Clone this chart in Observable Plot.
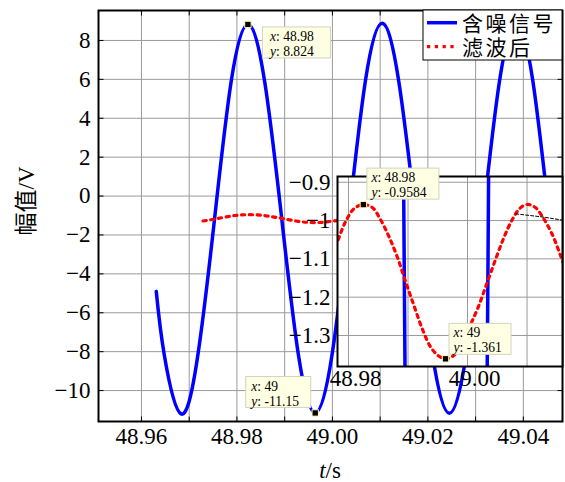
<!DOCTYPE html>
<html><head><meta charset="utf-8">
<script src="https://cdn.jsdelivr.net/npm/d3@7"></script>
<script src="https://cdn.jsdelivr.net/npm/@observablehq/plot@0.6"></script>
<style>
body{margin:0;background:#fff}
#wrap{position:relative;width:565px;height:482px;overflow:hidden}
#wrap > svg{position:absolute;font-family:"Liberation Serif","Noto Sans CJK SC",serif !important;font-size:23px !important}
</style>
</head><body><div id="wrap"></div><script>
// ---------- data ----------
const blueT = [48.9631, 48.9648, 48.9683, 48.9718, 48.9753, 48.9788, 48.9823, 48.9858, 48.9894, 48.9929,
               48.9964, 48.9999, 49.0034, 49.0069, 49.0104, 49.0139, 49.0175, 49.0210, 49.0245, 49.0280,
               49.0315, 49.0350, 49.0385, 49.0420, 49.0455, 49.0490];
const blueV = [-4.9, -8.2, -11.2, -8.2, -1.2, 5.9, 8.82, 5.9, -1.2, -8.2,
               -11.15, -8.2, -1.2, 5.9, 8.88, 5.9, -1.2, -8.2, -11.17, -8.2,
               -1.2, 5.9, 8.9, 5.9, -1.2, -8.2];
const redT = [48.9729, 48.9745, 48.9760, 48.97815, 48.9796, 48.9810, 48.9825, 48.9840, 48.9854, 48.9868,
              48.9882, 48.9896, 48.9910, 48.9924, 48.9938, 48.9951, 48.9963, 48.9977, 48.9991, 49.0005,
              49.0019, 49.0033, 49.0047, 49.0061, 49.0075, 49.0088, 49.0100, 49.0114, 49.0128, 49.0142,
              49.0156, 49.0170];
const redV = [-1.28, -1.22, -1.15, -1.055, -1.0, -0.968, -0.9584, -0.966, -0.998, -1.042,
              -1.095, -1.16, -1.222, -1.283, -1.33, -1.353, -1.361, -1.352, -1.318, -1.272,
              -1.222, -1.162, -1.102, -1.045, -0.998, -0.968, -0.958, -0.966, -0.995, -1.035,
              -1.09, -1.15];
const dashT = [49.0081, 49.0128, 49.0160];
const dashV = [-0.9825, -0.991, -0.999];

const mainTipX = [48.9823, 48.9964];
const mainTipY = [8.824, -11.15];
const insetTipX = [48.9825, 48.9963];
const insetTipY = [-0.9584, -1.361];

const xTickLabels = [48.96, 48.98, 49.00, 49.02, 49.04];
const xGridTicks = [48.96, 48.97, 48.98, 48.99, 49.00, 49.01, 49.02, 49.03, 49.04];
const yTickLabels = [-10, -8, -6, -4, -2, 0, 2, 4, 6, 8];
const insetXTickLabels = [48.98, 49.00];
const insetXGrid = [48.98, 48.99, 49.00, 49.01];
const insetYTickLabels = [-1.3, -1.2, -1.1, -1.0, -0.9];

const seriesNames = ["含噪信号", "滤波后"];
const xLabelVar = "t", xLabelUnit = "/s";
const yLabel = "幅值/V";

// ---------- tables ----------
const blue = blueT.map((t, i) => ({t, v: blueV[i]}));
const red = redT.map((t, i) => ({t, v: redV[i]}));
const dash = dashT.map((t, i) => ({t, v: dashV[i]}));
const mainTips = mainTipX.map((x, i) => ({x, y: mainTipY[i]}));
const insetTips = insetTipX.map((x, i) => ({x, y: insetTipY[i]}));

// ---------- styles ----------
const BLUE = "#0000ff", RED = "#ff0000", GRID = "#9a9a9a";
const SERIF = '"Liberation Serif","Times New Roman",serif';
const fmtTip = d3.formatLocale({decimal: ".", thousands: ",", grouping: [3], currency: ["", ""], minus: "-"}).format(".4~g");
const fmt2 = d3.format(".2f");
const fmtG = d3.format("~g");

function tickSym(dx, dy) {
  return {draw(ctx) { ctx.moveTo(0, 0); ctx.lineTo(dx, dy); }};
}
function datatip(d, {dx, dy, w, h = 31, pad = 5}) {
  const data = [d];
  const base = {x: "x", y: "y", textAnchor: "start", lineAnchor: "bottom", fontSize: 13.6, fontFamily: SERIF, fill: "black"};
  return [
    Plot.rect(data, {x1: "x", x2: "x", y1: "y", y2: "y",
      insetLeft: dx, insetRight: -(dx + w), insetTop: dy, insetBottom: -(dy + h),
      fill: "#ffffe4", stroke: "#d2d2c0", strokeWidth: 1}),
    Plot.dot(data, {x: "x", y: "y", symbol: "square", r: 3.6, fill: "black", stroke: "#ffffb0", strokeWidth: 1}),
    Plot.text(data, {...base, text: (p) => "x: " + fmtTip(p.x), dx: dx + pad, dy: dy + 13.6}),
    Plot.text(data, {...base, text: (p) => "y: " + fmtTip(p.y), dx: dx + pad, dy: dy + 28.6})
  ];
}
// italicise the variable letter of the datatip rows
function italicTipLetters(svg) {
  d3.select(svg).selectAll("text").each(function () {
    const s = this.textContent;
    if (this.childElementCount === 0 && /^[xy]: /.test(s)) {
      this.textContent = "";
      d3.select(this).append("tspan").attr("font-style", "italic").text(s[0]);
      d3.select(this).append("tspan").text(s.slice(1));
    }
  });
}

const wrap = document.getElementById("wrap");

// ---------- main chart ----------
const xDom = [48.9510, 49.0482], yDom = [-11.59, 9.54];
const main = Plot.plot({
  width: 565, height: 482,
  marginLeft: 98, marginRight: 3, marginTop: 10, marginBottom: 61,
  style: {background: "white", overflow: "visible"},
  x: {domain: xDom, ticks: xTickLabels, tickFormat: fmt2, tickSize: 0, tickPadding: 6, label: null},
  y: {domain: yDom, ticks: yTickLabels, tickFormat: fmtG, tickSize: 0, tickPadding: 8, label: null},
  marks: [
    Plot.ruleX(xGridTicks, {x: d => d, stroke: GRID, strokeWidth: 1}),
    Plot.ruleY(yTickLabels, {y: d => d, stroke: GRID, strokeWidth: 1}),
    Plot.line(blue, {x: "t", y: "v", stroke: BLUE, strokeWidth: 3.5, curve: "natural", clip: true}),
    Plot.line(red, {x: "t", y: "v", stroke: RED, strokeWidth: 3.2, strokeDasharray: "3.2 4.6", curve: "catmull-rom", clip: true}),
    Plot.dot(xGridTicks, {x: d => d, y: () => yDom[0], symbol: tickSym(0, -5), stroke: "black", fill: "none", strokeWidth: 1}),
    Plot.dot(xGridTicks, {x: d => d, y: () => yDom[1], symbol: tickSym(0, 5), stroke: "black", fill: "none", strokeWidth: 1}),
    Plot.dot(yTickLabels, {x: () => xDom[0], y: d => d, symbol: tickSym(5, 0), stroke: "black", fill: "none", strokeWidth: 1}),
    Plot.dot(yTickLabels, {x: () => xDom[1], y: d => d, symbol: tickSym(-5, 0), stroke: "black", fill: "none", strokeWidth: 1}),
    Plot.frame({stroke: "black", strokeWidth: 2}),
    ...datatip(mainTips[0], {dx: 15, dy: 3, w: 68, pad: 7}),
    ...datatip(mainTips[1], {dx: -69, dy: -36, w: 65, h: 31, pad: 5})
  ]
});
main.style.left = "0px"; main.style.top = "0px";
italicTipLetters(main);
wrap.appendChild(main);

// ---------- inset chart ----------
const ixDom = [48.97815, 49.01596], iyDom = [-1.381, -0.885];
const inset = Plot.plot({
  width: 282, height: 232,
  marginLeft: 54, marginRight: 3, marginTop: 16, marginBottom: 26,
  style: {background: "transparent", overflow: "visible"},
  x: {domain: ixDom, axis: null},
  y: {domain: iyDom, ticks: insetYTickLabels, tickFormat: fmtG, tickSize: 0, tickPadding: 7, label: null},
  marks: [
    Plot.frame({fill: "white"}),
    Plot.ruleX(insetXGrid, {x: d => d, stroke: GRID, strokeWidth: 1}),
    Plot.ruleY(insetYTickLabels, {y: d => d, stroke: GRID, strokeWidth: 1}),
    Plot.line(blue, {x: "t", y: "v", stroke: BLUE, strokeWidth: 3.5, curve: "natural", clip: true}),
    Plot.line(red, {x: "t", y: "v", stroke: RED, strokeWidth: 3.2, strokeDasharray: "3.2 4.6", curve: "catmull-rom", clip: true}),
    Plot.line(dash, {x: "t", y: "v", stroke: "black", strokeWidth: 1, strokeDasharray: "3 2", clip: true}),
    Plot.text(insetXTickLabels, {x: d => d, y: () => iyDom[0], text: d => fmt2(d), dx: 7, dy: 3, lineAnchor: "top", fontSize: 23, fontFamily: SERIF, fill: "black"}),
    Plot.frame({stroke: "black", strokeWidth: 2}),
    ...datatip(insetTips[0], {dx: 4, dy: -36, w: 72, h: 31, pad: 4}),
    ...datatip(insetTips[1], {dx: 4, dy: -35, w: 62, h: 31, pad: 4})
  ]
});
inset.style.left = "283px"; inset.style.top = "160px";
italicTipLetters(inset);
wrap.appendChild(inset);

// ---------- legend & axis titles ----------
const ov = d3.select(wrap).append("svg")
  .attr("width", 565).attr("height", 482)
  .style("left", "0px").style("top", "0px").style("overflow", "visible");
const lg = ov.append("g");
lg.append("rect").attr("x", 423).attr("y", 10).attr("width", 139).attr("height", 50)
  .attr("fill", "white").attr("stroke", "black").attr("stroke-width", 1);
lg.append("line").attr("x1", 427).attr("x2", 457).attr("y1", 22.7).attr("y2", 22.7)
  .attr("stroke", BLUE).attr("stroke-width", 3.5);
lg.append("line").attr("x1", 427).attr("x2", 457).attr("y1", 46.7).attr("y2", 46.7)
  .attr("stroke", RED).attr("stroke-width", 3.2).attr("stroke-dasharray", "3.2 4.6");
lg.selectAll("text.lg").data(seriesNames).join("text").attr("class", "lg")
  .attr("x", 462).attr("y", (d, i) => 30.5 + i * 24)
  .attr("font-family", '"Noto Sans CJK SC", sans-serif').attr("font-size", 21).attr("letter-spacing", 2.5)
  .attr("fill", "black")
  .text(d => d);
const xt = ov.append("text").attr("x", 330).attr("y", 477.5).attr("text-anchor", "middle")
  .attr("font-size", 23).attr("fill", "black").attr("font-family", SERIF);
xt.append("tspan").attr("font-style", "italic").text(xLabelVar);
xt.append("tspan").text(xLabelUnit);
ov.append("text").attr("transform", "translate(34,201) rotate(-90)").attr("text-anchor", "middle")
  .attr("font-size", 23).attr("fill", "black")
  .attr("font-family", '"Liberation Serif","Noto Sans CJK SC",serif')
  .text(yLabel);
</script></body></html>
